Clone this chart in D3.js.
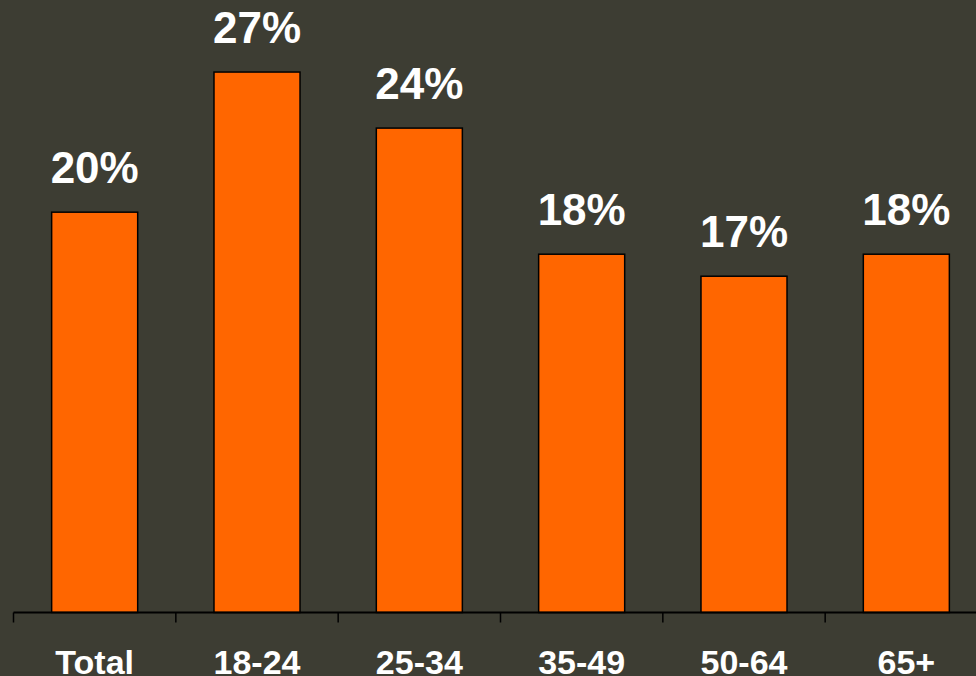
<!DOCTYPE html>
<html>
<head>
<meta charset="utf-8">
<script src="https://cdn.jsdelivr.net/npm/d3@7"></script>
<style>
  html, body { margin: 0; padding: 0; background: #3d3d33; }
  svg { display: block; }
</style>
</head>
<body>
<div id="chart"></div>
<script>
// Datos
const categorias = ["Total", "18-24", "25-34", "35-49", "50-64", "65+"];
const valores = [20, 27, 24.2, 17.9, 16.8, 17.9];

const WIDTH = 976;
const HEIGHT = 676;

const SVG = d3.select("#chart")
    .append("svg")
    .attr("width", WIDTH)
    .attr("height", HEIGHT);

SVG.append("rect")
    .attr("width", WIDTH)
    .attr("height", HEIGHT)
    .attr("fill", "#3d3d33");

const baseY = 612.5;

// Escala para las barras
const escalaX = d3.scaleBand()
    .domain(categorias)
    .range([13.5, 987.5])
    .paddingInner(0.47)
    .paddingOuter(0.235);

// Escala sin padding para los ticks (entre categorias)
const escalaTicks = d3.scaleBand()
    .domain(categorias)
    .range([13.5, 987.5]);

const escalaY = d3.scaleLinear()
    .domain([0, 30])
    .range([baseY, 12]);

const fmt = d => `${Math.round(d)}%`;

const datos = categorias.map((c, i) => ({ cat: c, valor: valores[i] }));

// Barras
SVG.selectAll(".barra")
    .data(datos)
    .join("rect")
    .attr("class", "barra")
    .attr("x", d => escalaX(d.cat))
    .attr("y", d => escalaY(d.valor))
    .attr("width", escalaX.bandwidth())
    .attr("height", d => baseY - escalaY(d.valor))
    .attr("fill", "#ff6600")
    .attr("stroke", "#000")
    .attr("stroke-width", 1.5);

// Etiquetas de valor
SVG.selectAll(".etiqueta")
    .data(datos)
    .join("text")
    .attr("class", "etiqueta")
    .attr("x", d => escalaX(d.cat) + escalaX.bandwidth() / 2)
    .attr("y", d => escalaY(d.valor) - 29)
    .attr("text-anchor", "middle")
    .attr("fill", "#fff")
    .style("font-family", "Arial, 'Liberation Sans', sans-serif")
    .style("font-weight", "bold")
    .style("font-size", "44px")
    .text(d => fmt(d.valor));

// Eje X
SVG.append("line")
    .attr("x1", escalaTicks(categorias[0]))
    .attr("x2", WIDTH)
    .attr("y1", baseY)
    .attr("y2", baseY)
    .attr("stroke", "#000")
    .attr("stroke-width", 1.8);

SVG.selectAll(".tick")
    .data(categorias)
    .join("line")
    .attr("class", "tick")
    .attr("x1", d => escalaTicks(d))
    .attr("x2", d => escalaTicks(d))
    .attr("y1", baseY)
    .attr("y2", baseY + 10)
    .attr("stroke", "#000")
    .attr("stroke-width", 1.5);

SVG.selectAll(".cat-label")
    .data(categorias)
    .join("text")
    .attr("class", "cat-label")
    .attr("x", d => escalaX(d) + escalaX.bandwidth() / 2)
    .attr("y", 673.5)
    .attr("text-anchor", "middle")
    .attr("fill", "#fff")
    .style("font-family", "Arial, 'Liberation Sans', sans-serif")
    .style("font-weight", "bold")
    .style("font-size", "34px")
    .text(d => d);
</script>
</body>
</html>
